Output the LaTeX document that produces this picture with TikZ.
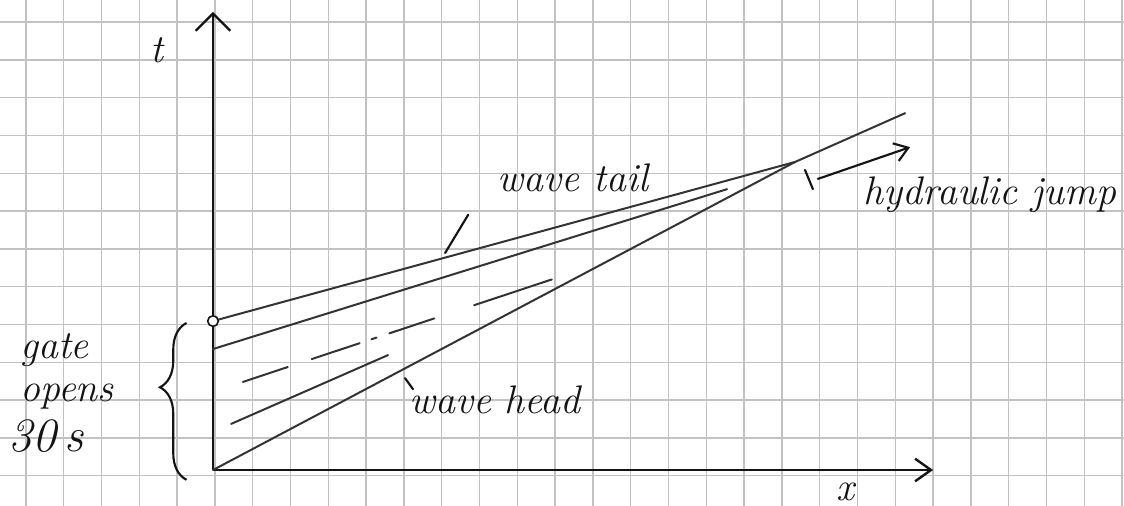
\documentclass[tikz,border=0pt]{standalone}
\usepackage{tikz}
\usetikzlibrary{arrows.meta,decorations.pathreplacing}
\definecolor{gridgray}{HTML}{C2C2C2}
\definecolor{pencil}{HTML}{333333}
\definecolor{ink}{HTML}{141414}

\begin{document}
\begin{tikzpicture}[x=0.5cm,y=0.5cm,
  hand/.style={font=\itshape\fontsize{15}{17}\selectfont, color=ink},
  charline/.style={draw=pencil, line width=0.75pt, line cap=round},
  axisline/.style={draw=ink, line width=0.9pt},
  leader/.style={draw=ink, line width=0.8pt, line cap=round}]
\useasboundingbox (-5.635,-0.926) rectangle (24.10,12.434);
\fill[white] (-5.635,-0.926) rectangle (24.10,12.434);
\begin{scope}
\clip (-5.635,-0.926) rectangle (24.10,12.434);
\draw[gridgray, line width=0.5pt, step=1, shift={(0.05,-0.15)}] (-6,-1) grid (25,13);
\end{scope}

% axes
\coordinate (O) at (0,0);
\coordinate (ttip) at (0,12.12);
\coordinate (xtip) at (19.05,0);
\draw[axisline, -{Straight Barb[length=6.5pt,width=13pt]}] (O) -- (ttip);
\draw[axisline, -{Straight Barb[length=6pt,width=8.5pt]}] (O) -- (xtip);
\node[hand] (tlabel) at (-1.48,11.11) {t};
\node[hand] (xlabel) at (16.72,-0.58) {x};

% characteristics in the x-t plane
\coordinate (gate) at (0,3.94);
\coordinate (meet) at (15.40,8.15);
\coordinate (jumpend) at (18.31,9.44);
\draw[charline] (gate) -- (meet);
\draw[charline] (O) -- (meet);
\draw[charline] (meet) -- (jumpend);
\draw[charline] (0,3.20) -- (13.60,7.43);
\draw[charline, dash pattern=on 17.8pt off 9.5pt on 19pt off 4.7pt on 2pt off 5.1pt on 17.8pt off 15.8pt on 30.8pt off 60pt] (0.79,2.33) -- (8.99,5.05);
\draw[charline] (0.48,1.22) -- (4.63,3.04);
\draw[ink, line width=0.6pt, fill=white] (gate) circle (2pt);

% labels
\node[hand] (headlabel) at (7.46,1.85) {wave head};
\node[hand] (taillabel) at (9.52,7.72) {wave tail};
\node[hand] (jumplabel) at (20.56,7.28) {hydraulic jump};
\coordinate (headA) at (5.08,2.43);
\coordinate (headB) at (5.29,2.14);
\coordinate (tailA) at (6.14,5.74);
\coordinate (tailB) at (6.75,6.75);
\coordinate (jumpA) at (15.66,7.94);
\coordinate (jumpB) at (15.87,7.43);
\coordinate (arrowA) at (16.0,7.70);
\coordinate (arrowB) at (18.44,8.54);
\draw[leader] (headA) -- (headB);
\draw[leader] (tailA) -- (tailB);
\draw[leader] (jumpA) -- (jumpB);
\draw[leader, -{Straight Barb[length=5pt,width=7pt]}] (arrowA) -- (arrowB);

% gate opening time
\draw[ink, line width=0.8pt, decorate, decoration={brace, amplitude=10pt, aspect=0.59}] (-0.7,-0.26) -- (-0.7,3.89);
\node[hand, anchor=base west] (gatetxt) at (-5.35,2.96) {gate};
\node[hand, anchor=base west] (openstxt) at (-5.35,1.80) {opens};
\node[hand, anchor=base west, font=\itshape\fontsize{18}{20}\selectfont] (timetxt) at (-5.65,0.48) {30\,s};
\end{tikzpicture}
\end{document}
